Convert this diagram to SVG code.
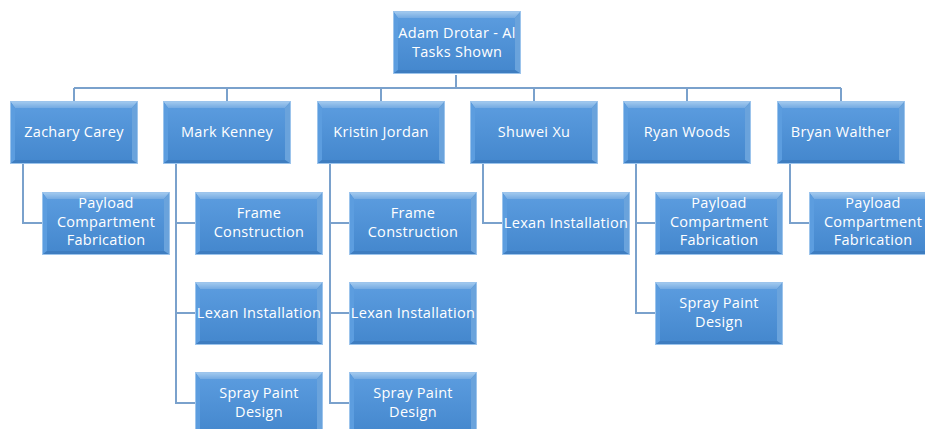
<svg xmlns="http://www.w3.org/2000/svg" xmlns:xlink="http://www.w3.org/1999/xlink" width="925" height="429" viewBox="0 0 925 429">
<style>
.t{font-family:"Open Sans","Noto Sans",sans-serif;font-size:14.5px;letter-spacing:0.3px;fill:#ffffff;text-anchor:middle;}
.c{fill:none;stroke:#7aa1cc;stroke-width:2;}
</style>
<defs>
<linearGradient id="gFace" x1="0" y1="0" x2="0" y2="1">
<stop offset="0" stop-color="#5a9bde"/><stop offset="1" stop-color="#4588ce"/>
</linearGradient>
<linearGradient id="gTop" x1="0" y1="0" x2="0" y2="1">
<stop offset="0" stop-color="#a7cdf0"/><stop offset="1" stop-color="#74aae2"/>
</linearGradient>
<g id="bev">
<rect width="128" height="63" fill="#4a8bd0"/>
<polygon points="0,0 128,0 122,7 5,7" fill="url(#gTop)"/>
<polygon points="0,0 5,7 5,59 0,63" fill="#5c9ddf"/>
<polygon points="128,0 128,63 122,59 122,7" fill="#6aa3dc"/>
<polygon points="0,63 5,59 122,59 128,63" fill="#3e7dc0"/>
<rect x="5" y="7" width="117" height="52" fill="url(#gFace)"/>
<rect x="0.5" y="0.5" width="127" height="62" fill="none" stroke="#9cc4ec" stroke-width="1"/>
</g>
</defs>
<rect width="925" height="429" fill="#ffffff"/>
<g id="connectors">
<path class="c" d="M456,75 V88 M74,88 H841 M74,88 V101 M227,88 V101 M381,88 V101 M534,88 V101 M687,88 V101 M841,88 V101"/>
<path class="c" d="M23,164 V223 H42"/>
<path class="c" d="M176,164 V403 H195 M176,223 H195 M176,313 H195"/>
<path class="c" d="M330,164 V403 H349 M330,223 H349 M330,313 H349"/>
<path class="c" d="M483,164 V223 H502"/>
<path class="c" d="M636,164 V313 H655 M636,223 H655"/>
<path class="c" d="M790,164 V223 H809"/>
</g>
<svg id="n-top" x="393" y="11" width="128" height="64"><use xlink:href="#bev"/><text class="t" x="64" y="27">Adam Drotar - Al</text><text class="t" x="64" y="46">Tasks Shown</text></svg>
<svg id="n-zachary" x="10" y="101" width="128" height="63"><use xlink:href="#bev"/><text class="t" x="64" y="36">Zachary Carey</text></svg>
<svg id="n-mark" x="163" y="101" width="128" height="63"><use xlink:href="#bev"/><text class="t" x="64" y="36">Mark Kenney</text></svg>
<svg id="n-kristin" x="317" y="101" width="128" height="63"><use xlink:href="#bev"/><text class="t" x="64" y="36">Kristin Jordan</text></svg>
<svg id="n-shuwei" x="470" y="101" width="128" height="63"><use xlink:href="#bev"/><text class="t" x="64" y="36">Shuwei Xu</text></svg>
<svg id="n-ryan" x="623" y="101" width="128" height="63"><use xlink:href="#bev"/><text class="t" x="64" y="36">Ryan Woods</text></svg>
<svg id="n-bryan" x="777" y="101" width="128" height="63"><use xlink:href="#bev"/><text class="t" x="64" y="36">Bryan Walther</text></svg>

<svg id="n-zachary-1" x="42" y="192" width="128" height="63"><use xlink:href="#bev"/><text class="t" x="64" y="16">Payload</text><text class="t" x="64" y="35">Compartment</text><text class="t" x="64" y="53">Fabrication</text></svg>

<svg id="n-mark-1" x="195" y="192" width="128" height="63"><use xlink:href="#bev"/><text class="t" x="64" y="26">Frame</text><text class="t" x="64" y="45">Construction</text></svg>
<svg id="n-mark-2" x="195" y="282" width="128" height="63"><use xlink:href="#bev"/><text class="t" x="64" y="36">Lexan Installation</text></svg>
<svg id="n-mark-3" x="195" y="372" width="128" height="63"><use xlink:href="#bev"/><text class="t" x="64" y="26">Spray Paint</text><text class="t" x="64" y="45">Design</text></svg>

<svg id="n-kristin-1" x="349" y="192" width="128" height="63"><use xlink:href="#bev"/><text class="t" x="64" y="26">Frame</text><text class="t" x="64" y="45">Construction</text></svg>
<svg id="n-kristin-2" x="349" y="282" width="128" height="63"><use xlink:href="#bev"/><text class="t" x="64" y="36">Lexan Installation</text></svg>
<svg id="n-kristin-3" x="349" y="372" width="128" height="63"><use xlink:href="#bev"/><text class="t" x="64" y="26">Spray Paint</text><text class="t" x="64" y="45">Design</text></svg>

<svg id="n-shuwei-1" x="502" y="192" width="128" height="63"><use xlink:href="#bev"/><text class="t" x="64" y="36">Lexan Installation</text></svg>

<svg id="n-ryan-1" x="655" y="192" width="128" height="63"><use xlink:href="#bev"/><text class="t" x="64" y="16">Payload</text><text class="t" x="64" y="35">Compartment</text><text class="t" x="64" y="53">Fabrication</text></svg>
<svg id="n-ryan-2" x="655" y="282" width="128" height="63"><use xlink:href="#bev"/><text class="t" x="64" y="26">Spray Paint</text><text class="t" x="64" y="45">Design</text></svg>

<svg id="n-bryan-1" x="809" y="192" width="128" height="63"><use xlink:href="#bev"/><text class="t" x="64" y="16">Payload</text><text class="t" x="64" y="35">Compartment</text><text class="t" x="64" y="53">Fabrication</text></svg>
</svg>
